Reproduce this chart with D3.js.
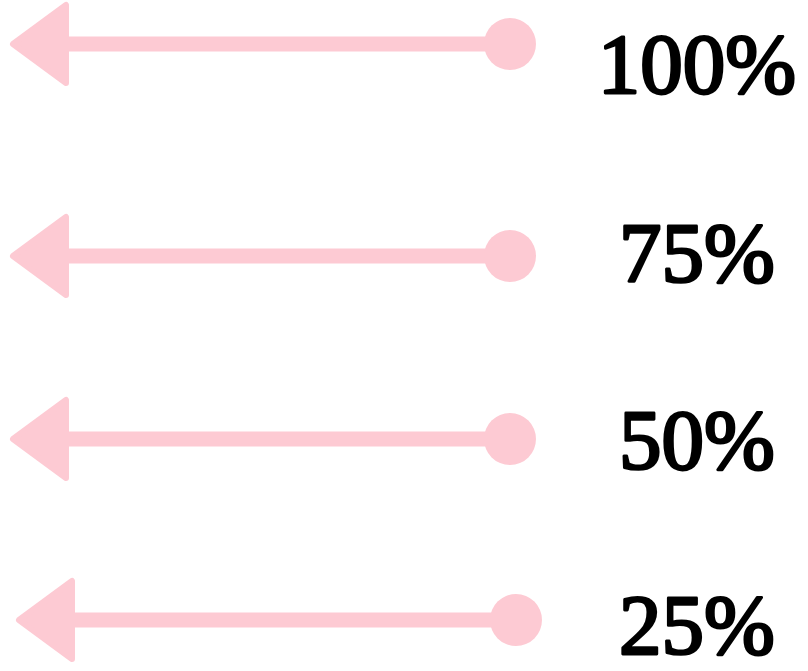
<!DOCTYPE html>
<html>
<head>
<meta charset="utf-8">
<script src="https://cdn.jsdelivr.net/npm/d3@7"></script>
<style>
  html, body { margin: 0; padding: 0; background: #fff; }
  svg { display: block; }
</style>
</head>
<body>
<svg id="chart" width="808" height="671"></svg>
<script>
// data
const labels = ["100%", "75%", "50%", "25%"];
const values = [100, 75, 50, 25];

const pink = "#FDCAD3";
const svg = d3.select("#chart");

// rows are not evenly spaced in the reference
const yRow = d3.scaleOrdinal().domain(labels).range([44, 256, 439, 620]);
const yText = d3.scaleOrdinal().domain(labels).range([93, 282, 469, 654]);
const xShift = d3.scaleOrdinal().domain(labels).range([0, 0, 0, 6]);

const x = d3.scaleLinear().domain([0, 1]).range([10, 510]);

const rows = svg.selectAll("g.row")
    .data(labels)
    .join("g")
    .attr("class", "row")
    .attr("transform", d => "translate(" + xShift(d) + "," + yRow(d) + ")");

// shaft
rows.append("line")
    .attr("x1", x(0) + 50)
    .attr("x2", x(1))
    .attr("y1", 0)
    .attr("y2", 0)
    .attr("stroke", pink)
    .attr("stroke-width", 15);

// head
rows.append("path")
    .attr("d", d3.line()([[x(0) + 3, 0], [x(0) + 56, -39], [x(0) + 56, 39]]) + "Z")
    .attr("fill", pink)
    .attr("stroke", pink)
    .attr("stroke-width", 6)
    .attr("stroke-linejoin", "round");

// end dot
rows.append("circle")
    .attr("cx", x(1))
    .attr("cy", 0)
    .attr("r", 26)
    .attr("fill", pink);

// labels
svg.selectAll("text.lbl")
    .data(labels)
    .join("text")
    .attr("class", "lbl")
    .attr("x", 697)
    .attr("y", d => yText(d))
    .attr("text-anchor", "middle")
    .attr("font-family", "'Liberation Serif', 'DejaVu Serif', serif")
    .attr("font-size", 85)
    .attr("fill", "#000")
    .attr("stroke", "#000")
    .attr("stroke-width", 2.8)
    .attr("stroke-linejoin", "round")
    .text(d => d);
</script>
</body>
</html>
